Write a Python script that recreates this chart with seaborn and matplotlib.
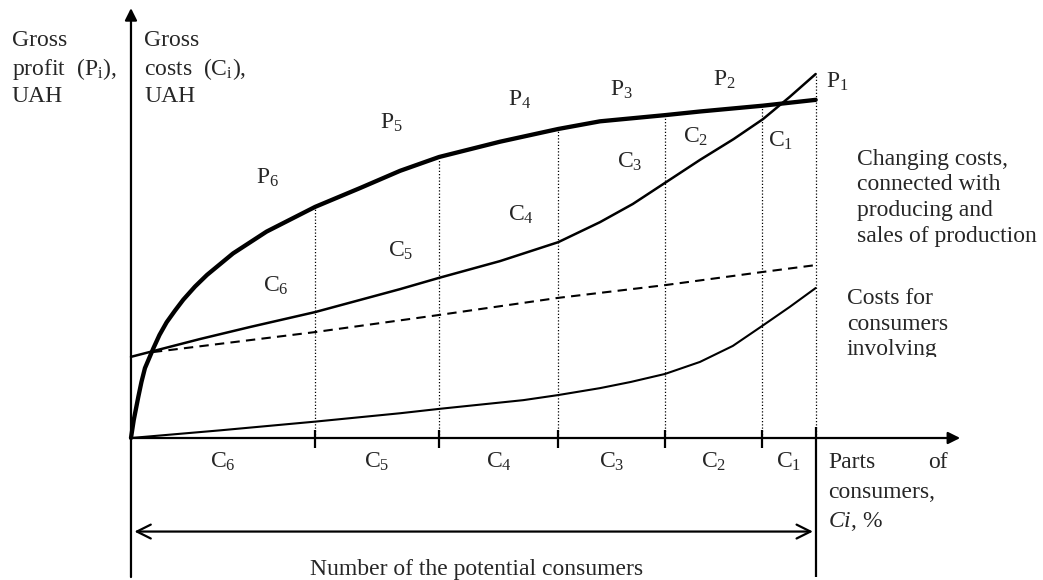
import numpy as np
import matplotlib.pyplot as plt
import matplotlib.patches as mpatches
import seaborn as sns

# segment borders on the x axis (share of consumers, %)
borders = [0, 26.9, 45.0, 62.4, 78.0, 92.2, 100]
segment_names = ['C$_6$', 'C$_5$', 'C$_4$', 'C$_3$', 'C$_2$', 'C$_1$']

# gross profit P (thick curve)
profit_x = [0, 0.4, 1.07, 1.53, 2.04, 3.26, 4.16, 5.21, 6.43, 7.64, 9.35, 11.1,
            14.9, 19.8, 26.9, 33.5, 39.3, 45.0, 53.9, 62.4, 68.5, 78.0, 83.1,
            92.3, 100]
profit_y = [0, 4.9, 11.3, 15.4, 19.2, 24.6, 28.3, 31.8, 35.0, 38.0, 41.6, 44.8,
            50.7, 56.7, 63.5, 68.7, 73.4, 77.2, 81.4, 84.9, 87.0, 88.7, 89.7,
            91.3, 92.9]

# gross costs C
cost_x = [0, 10.1, 17.4, 26.9, 33.4, 39.3, 45.0, 53.9, 62.4, 68.5, 73.3, 78.0,
          83.1, 88.0, 92.3, 96.2, 100]
cost_y = [22.3, 27.2, 30.5, 34.6, 37.9, 40.9, 44.0, 48.6, 53.8, 59.3, 64.3, 70.1,
          76.4, 82.1, 87.6, 93.7, 100]

# changing costs (dashed)
dash_x = [3.2, 26.9, 45.0, 62.4, 78.0, 92.2, 100]
dash_y = [23.6, 29.1, 33.8, 38.5, 42.0, 45.6, 47.5]

# costs for consumers involving
low_x = [0, 13.0, 26.9, 39.3, 45.0, 57.3, 62.4, 68.5, 73.0, 78.0, 83.1, 87.9,
         92.2, 96.2, 100]
low_y = [0, 2.1, 4.5, 6.8, 8.0, 10.4, 11.8, 13.7, 15.4, 17.6, 20.9, 25.3,
         30.8, 36.0, 41.2]

# curve labels
p_labels = ['P$_6$', 'P$_5$', 'P$_4$', 'P$_3$', 'P$_2$', 'P$_1$']
c_labels = ['C$_6$', 'C$_5$', 'C$_4$', 'C$_3$', 'C$_2$', 'C$_1$']

# layout (data coords) of the curve labels
p_pos = [(19.9, 71.4), (38.1, 86.5), (56.8, 92.9), (71.7, 95.6), (86.6, 98.4), (103.1, 97.8)]
c_pos = [(21.2, 41.8), (39.4, 51.4), (57.0, 61.3), (72.9, 75.8), (82.4, 82.7), (94.9, 81.6)]

sns.set_theme(style='white')
plt.rcParams['font.family'] = ['Liberation Serif', 'DejaVu Serif']
plt.rcParams['mathtext.fontset'] = 'custom'
plt.rcParams['mathtext.rm'] = 'Liberation Serif'
plt.rcParams['mathtext.it'] = 'Liberation Serif:italic'

W, H = 1043, 580
fig = plt.figure(figsize=(W / 100, H / 100), dpi=100)
ax = fig.add_axes([0, 0, 1, 1])
ax.set_xlim(-19.13, 133.20)
ax.set_ylim(-39.01, 120.33)
ax.axis('off')

fs = 17
k = dict(color='black', sort=False, estimator=None, legend=False, ax=ax)

# curves
sns.lineplot(x=profit_x, y=profit_y, lw=3.1, **k)
sns.lineplot(x=cost_x, y=cost_y, lw=1.8, **k)
sns.lineplot(x=dash_x, y=dash_y, lw=1.5, **k)
ax.lines[-1].set_dashes([4.5, 3])
sns.lineplot(x=low_x, y=low_y, lw=1.5, **k)
for ln in ax.lines:
    ln.set_solid_joinstyle('round')

# dotted borders up to the upper curve
tops = [max(np.interp(b, profit_x, profit_y), np.interp(b, cost_x, cost_y)) for b in borders[1:]]
ax.vlines(borders[1:], 0, tops, colors='black', lw=0.9, linestyles=(0, (1, 1.6)))

# axes with arrows
ax.annotate('', xy=(0, 118.1), xytext=(0, -38.2),
            arrowprops=dict(arrowstyle='-|>', lw=1.6, color='black', mutation_scale=18,
                            shrinkA=0, shrinkB=0))
ax.annotate('', xy=(121.1, 0), xytext=(0, 0),
            arrowprops=dict(arrowstyle='-|>', lw=1.6, color='black', mutation_scale=18,
                            shrinkA=0, shrinkB=0))
ax.vlines(borders[1:-1], -2.7, 2.2, colors='black', lw=1.6)
ax.vlines(borders[-1], -38.2, 3.0, colors='black', lw=1.6)

# number of potential consumers
ax.annotate('', xy=(borders[0] + 0.5, -25.7), xytext=(borders[-1] - 0.4, -25.7),
            arrowprops=dict(arrowstyle='<->,head_length=0.5,head_width=0.25', lw=1.6,
                            color='black', mutation_scale=20, shrinkA=0, shrinkB=0))

# segment names under the axis
for a, b, name in zip(borders[:-1], borders[1:], segment_names):
    ax.text((a + b) / 2, -6.6, name, ha='center', va='center', fontsize=fs)

for (x, y), s in zip(p_pos, p_labels):
    ax.text(x, y, s, ha='center', va='center', fontsize=fs)
for (x, y), s in zip(c_pos, c_labels):
    ax.text(x, y, s, ha='center', va='center', fontsize=fs)


def ftext(px, py, s, **kw):
    # py is the baseline of the last line
    return fig.text(px / W, 1 - py / H, s, fontsize=fs, va='baseline', **kw)


ftext(11.7, 102, 'Gross\nprofit  (P$_{\\mathrm{i}}$),\nUAH', linespacing=1.25)
ftext(144, 102, 'Gross\ncosts  (C$_{\\mathrm{i}}$),\nUAH', linespacing=1.25)
ftext(856.7, 242, 'Changing costs,\nconnected with\nproducing and\nsales of production',
      linespacing=1.3)
t = ftext(846.7, 355, 'Costs for\nconsumers\ninvolving', linespacing=1.27)
clip = mpatches.Rectangle((0, 1 - 357 / H), 1, 357 / H, transform=fig.transFigure,
                          visible=False)
fig.add_artist(clip)
t.set_clip_path(clip)

ftext(828, 468, 'Parts')
ftext(948, 468, 'of', ha='right')
ftext(828, 498, 'consumers,')
ftext(828, 527, '$\\mathit{Ci}$, %')
ftext(310, 575, 'Number of the potential consumers')

fig.savefig('out.png', dpi=100)
